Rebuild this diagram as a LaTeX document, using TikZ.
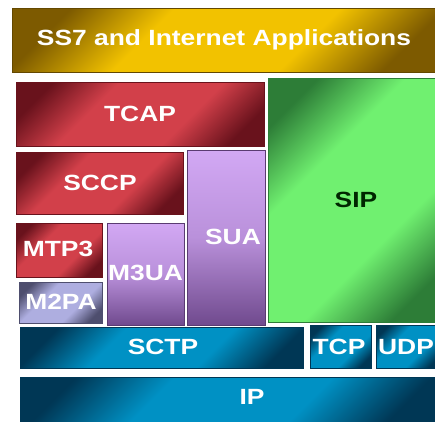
\documentclass[tikz,border=0pt]{standalone}
\usepackage{fontspec}
\setmainfont{Liberation Sans}
\newfontfamily\lblfont[FakeStretch=1.2]{Liberation Sans Bold}
\definecolor{yelL}{RGB}{242,194,0}
\definecolor{yelD}{RGB}{125,90,0}
\definecolor{redL}{RGB}{210,64,74}
\definecolor{redD}{RGB}{105,18,28}
\definecolor{grnL}{RGB}{112,240,112}
\definecolor{grnD}{RGB}{45,125,55}
\definecolor{purL}{RGB}{210,168,244}
\definecolor{purD}{RGB}{112,74,142}
\definecolor{lavL}{RGB}{174,174,224}
\definecolor{lavD}{RGB}{78,78,110}
\definecolor{bluL}{RGB}{0,145,196}
\definecolor{bluD}{RGB}{0,55,85}
\newcommand\mkshade[3]{\pgfdeclarehorizontalshading{#1}{100bp}{color(0bp)=(#3); color(23bp)=(#3); color(38bp)=(#2); color(62bp)=(#2); color(77bp)=(#3); color(100bp)=(#3)}}
\mkshade{yelshade}{yelL}{yelD}
\mkshade{redshade}{redL}{redD}
\mkshade{grnshade}{grnL}{grnD}
\mkshade{lavshade}{lavL}{lavD}
\mkshade{blushade}{bluL}{bluD}
\tikzset{
  yelbox/.style={shading=yelshade, shading angle=-45, draw=yelD!80!black, line width=0.8pt},
  redbox/.style={shading=redshade, shading angle=-45, draw=redD, line width=0.8pt},
  grnbox/.style={shading=grnshade, shading angle=-45, draw=grnD, line width=0.8pt},
  lavbox/.style={shading=lavshade, shading angle=-45, draw=lavD, line width=0.8pt},
  blubox/.style={shading=blushade, shading angle=-45, draw=bluD, line width=0.8pt},
  purbox/.style={top color=purL, bottom color=purD, middle color=purL!75!purD, draw=purD!80!black, line width=0.8pt},
  lbl/.style={text=white, font=\lblfont\fontsize{22}{24}\selectfont, inner sep=0pt},
  lbldark/.style={lbl, text=black!85!green}
}
\begin{document}
\begin{tikzpicture}[x=1pt,y=-1pt]
\useasboundingbox[fill=white] (0,0) rectangle (435,421);
% boxes
\path[yelbox] (12,8) rectangle (440,72);
\path[redbox] (16,82) rectangle (264,146);
\path[grnbox] (268,78) rectangle (440,322);
\path[redbox] (16,152) rectangle (183,214);
\path[purbox] (187,150) rectangle (265,325);
\path[redbox] (16,223) rectangle (102,277);
\path[lavbox] (19,282) rectangle (102,323);
\path[purbox] (107,223) rectangle (184,325);
\path[blubox] (20,327) rectangle (303,368);
\path[blubox] (310,325) rectangle (371,368);
\path[blubox] (376,325) rectangle (440,368);
\path[blubox] (20,377) rectangle (440,425);
% labels
\node[lbl] (ss7) at (224,40) {SS7 and Internet Applications};
\node[lbl] (tcap) at (140,114) {TCAP};
\node[lbldark] (sip) at (356,200) {SIP};
\node[lbl] (sccp) at (100,183) {SCCP};
\node[lbl] (sua) at (233,237) {SUA};
\node[lbl] (mtp3) at (58,249) {MTP3};
\node[lbl] (m2pa) at (61,302) {M2PA};
\node[lbl] (m3ua) at (145.5,273) {M3UA};
\node[lbl] (sctp) at (163,347) {SCTP};
\node[lbl] (tcp) at (339,347) {TCP};
\node[lbl] (udp) at (406,347) {UDP};
\node[lbl] (ip) at (252,397) {IP};
\end{tikzpicture}
\end{document}
